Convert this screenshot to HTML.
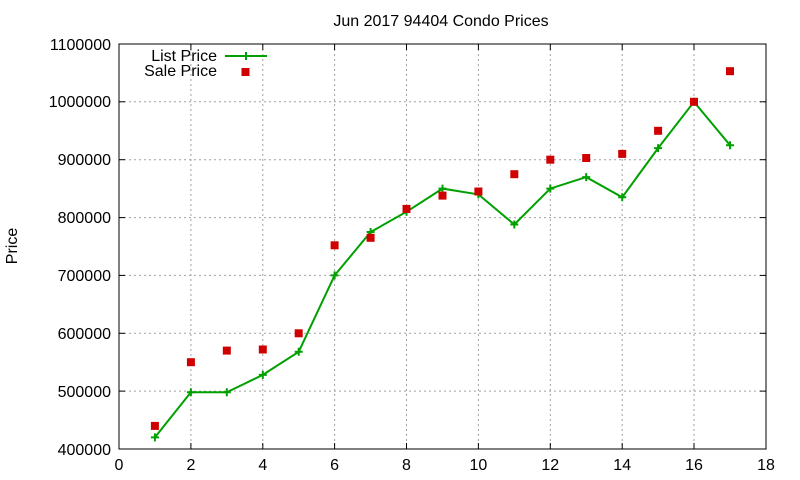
<!DOCTYPE html>
<html><head><meta charset="utf-8"><style>body{margin:0;background:#fff}svg{display:block}text{font-family:"Liberation Sans",sans-serif;font-size:16px;fill:#000}</style></head><body>
<svg width="800" height="480" xmlns="http://www.w3.org/2000/svg">
<g stroke="#a0a0a0" stroke-width="1" stroke-dasharray="2,3">
<line x1="190.9" y1="44" x2="190.9" y2="449"/><line x1="262.8" y1="44" x2="262.8" y2="449"/><line x1="334.6" y1="44" x2="334.6" y2="449"/><line x1="406.5" y1="44" x2="406.5" y2="449"/><line x1="478.4" y1="44" x2="478.4" y2="449"/><line x1="550.3" y1="44" x2="550.3" y2="449"/><line x1="622.2" y1="44" x2="622.2" y2="449"/><line x1="694" y1="44" x2="694" y2="449"/>
<line x1="119" y1="391.1" x2="766" y2="391.1"/><line x1="119" y1="333.3" x2="766" y2="333.3"/><line x1="119" y1="275.4" x2="766" y2="275.4"/><line x1="119" y1="217.6" x2="766" y2="217.6"/><line x1="119" y1="159.7" x2="766" y2="159.7"/><line x1="119" y1="101.8" x2="766" y2="101.8"/>
</g>
<rect x="119" y="44" width="647" height="405" fill="none" stroke="#000"/>
<g stroke="#000">
<line x1="190.9" y1="449" x2="190.9" y2="443"/><line x1="262.8" y1="449" x2="262.8" y2="443"/><line x1="334.6" y1="449" x2="334.6" y2="443"/><line x1="406.5" y1="449" x2="406.5" y2="443"/><line x1="478.4" y1="449" x2="478.4" y2="443"/><line x1="550.3" y1="449" x2="550.3" y2="443"/><line x1="622.2" y1="449" x2="622.2" y2="443"/><line x1="694" y1="449" x2="694" y2="443"/>
<line x1="190.9" y1="44" x2="190.9" y2="50"/><line x1="262.8" y1="44" x2="262.8" y2="50"/><line x1="334.6" y1="44" x2="334.6" y2="50"/><line x1="406.5" y1="44" x2="406.5" y2="50"/><line x1="478.4" y1="44" x2="478.4" y2="50"/><line x1="550.3" y1="44" x2="550.3" y2="50"/><line x1="622.2" y1="44" x2="622.2" y2="50"/><line x1="694" y1="44" x2="694" y2="50"/>
<line x1="119" y1="391.1" x2="125" y2="391.1"/><line x1="119" y1="333.3" x2="125" y2="333.3"/><line x1="119" y1="275.4" x2="125" y2="275.4"/><line x1="119" y1="217.6" x2="125" y2="217.6"/><line x1="119" y1="159.7" x2="125" y2="159.7"/><line x1="119" y1="101.8" x2="125" y2="101.8"/>
<line x1="766" y1="391.1" x2="760" y2="391.1"/><line x1="766" y1="333.3" x2="760" y2="333.3"/><line x1="766" y1="275.4" x2="760" y2="275.4"/><line x1="766" y1="217.6" x2="760" y2="217.6"/><line x1="766" y1="159.7" x2="760" y2="159.7"/><line x1="766" y1="101.8" x2="760" y2="101.8"/>
</g>
<g text-anchor="end">
<text x="111" y="455">400000</text><text x="111" y="397">500000</text><text x="111" y="339">600000</text><text x="111" y="281">700000</text><text x="111" y="223">800000</text><text x="111" y="165">900000</text><text x="111" y="107">1000000</text><text x="111" y="50">1100000</text>
</g>
<g text-anchor="middle">
<text x="119" y="470">0</text><text x="190.9" y="470">2</text><text x="262.8" y="470">4</text><text x="334.6" y="470">6</text><text x="406.5" y="470">8</text><text x="478.4" y="470">10</text><text x="550.3" y="470">12</text><text x="622.2" y="470">14</text><text x="694" y="470">16</text><text x="766" y="470">18</text>
<text x="441" y="26">Jun 2017 94404 Condo Prices</text>
<text transform="translate(17,246) rotate(-90)">Price</text>
</g>
<text x="217" y="61" text-anchor="end">List Price</text>
<text x="217" y="76" text-anchor="end">Sale Price</text>
<line x1="225" y1="56" x2="267" y2="56" stroke="#00a000" stroke-width="2"/>
<path d="M242 56h8M246 52v8" stroke="#00a000" stroke-width="2"/>
<rect x="241.5" y="68" width="8" height="8" fill="#d00000"/>
<polyline fill="none" stroke="#00a000" stroke-width="2" points="154.9,437.4 190.9,392.3 226.8,392.3 262.8,374.9 298.7,351.8 334.6,275.4 370.6,232 406.5,211.8 442.5,188.6 478.4,194.4 514.3,224.5 550.3,188.6 586.2,177.1 622.2,197.3 658.1,148.1 694,101.8 730,145.2"/>
<g stroke="#00a000" stroke-width="2">
<path d="M150.9 437.4h8M154.9 433.4v8M186.9 392.3h8M190.9 388.3v8M222.8 392.3h8M226.8 388.3v8M258.8 374.9h8M262.8 370.9v8M294.7 351.8h8M298.7 347.8v8M330.6 275.4h8M334.6 271.4v8M366.6 232h8M370.6 228v8M402.5 211.8h8M406.5 207.8v8M438.5 188.6h8M442.5 184.6v8M474.4 194.4h8M478.4 190.4v8M510.3 224.5h8M514.3 220.5v8M546.3 188.6h8M550.3 184.6v8M582.2 177.1h8M586.2 173.1v8M618.2 197.3h8M622.2 193.3v8M654.1 148.1h8M658.1 144.1v8M690 101.8h8M694 97.8v8M726 145.2h8M730 141.2v8"/>
</g>
<g fill="#d00000">
<rect x="150.9" y="421.9" width="8" height="8"/><rect x="186.9" y="358.2" width="8" height="8"/><rect x="222.8" y="346.6" width="8" height="8"/><rect x="258.8" y="345.5" width="8" height="8"/><rect x="294.7" y="329.3" width="8" height="8"/><rect x="330.6" y="241.3" width="8" height="8"/><rect x="366.6" y="233.8" width="8" height="8"/><rect x="402.5" y="204.9" width="8" height="8"/><rect x="438.5" y="191.6" width="8" height="8"/><rect x="474.4" y="187.5" width="8" height="8"/><rect x="510.3" y="170.2" width="8" height="8"/><rect x="546.3" y="155.7" width="8" height="8"/><rect x="582.2" y="154" width="8" height="8"/><rect x="618.2" y="149.9" width="8" height="8"/><rect x="654.1" y="126.8" width="8" height="8"/><rect x="690" y="97.8" width="8" height="8"/><rect x="726" y="67.2" width="8" height="8"/>
</g>
</svg>
</body></html>
